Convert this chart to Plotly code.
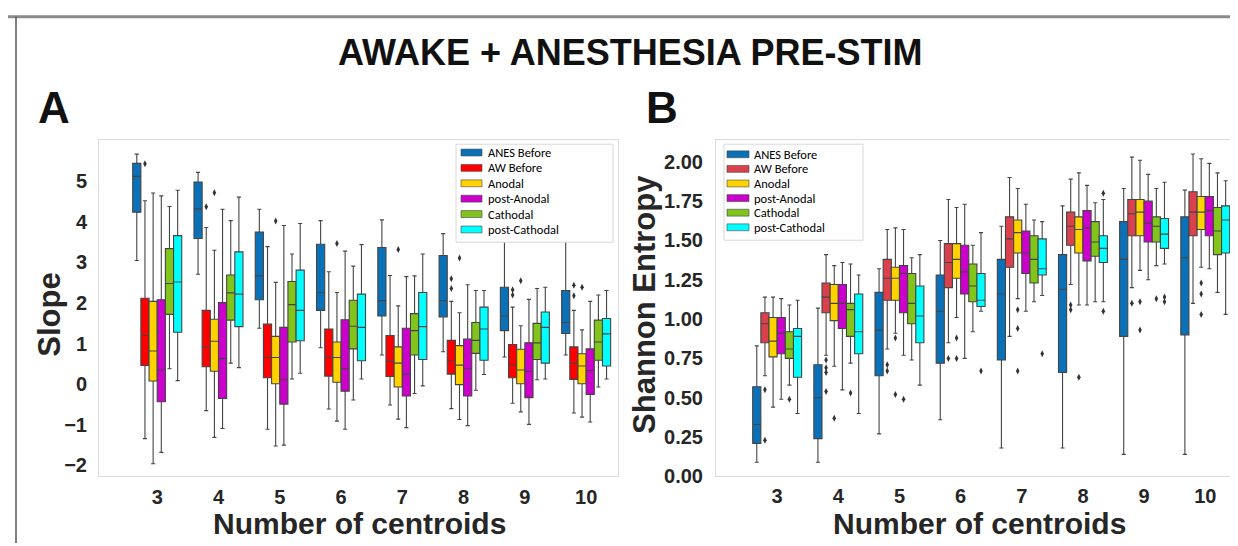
import plotly.graph_objects as go

W, H = 1238, 546

series = ["ANES Before", "AW Before", "Anodal", "post-Anodal", "Cathodal", "post-Cathodal"]
centroids = ["3", "4", "5", "6", "7", "8", "9", "10"]
colors_a = ["#0a71b8", "#ff0000", "#ffd200", "#cc00cc", "#80c41c", "#00ffff"]
colors_b = ["#0a71b8", "#d9414c", "#ffd200", "#cc00cc", "#80c41c", "#00ffff"]

# ---------- Panel A: Slope (rows = series, cols = centroids 3..10) ----------
slope_low = [
    [3.05, 2.71, 1.38, 0.90, 0.72, 0.80, 0.67, 0.72],
    [-1.34, -0.65, -1.11, -0.61, -0.51, -0.60, -0.47, -0.71],
    [-1.96, -1.31, -1.52, -0.91, -0.86, -0.87, -0.68, -0.81],
    [-1.68, -1.09, -1.50, -1.11, -1.07, -1.02, -0.99, -0.93],
    [0.38, 0.52, 0.13, -0.39, -0.23, -0.15, 0.11, -0.07],
    [0.09, 0.41, 0.27, 0.13, -0.04, 0.24, 0.13, 0.13],
]
slope_q1 = [
    [4.24, 3.59, 2.08, 1.82, 1.68, 1.66, 1.32, 1.25],
    [0.46, 0.43, 0.16, 0.20, 0.19, 0.25, 0.16, 0.12],
    [0.08, 0.32, 0.01, 0.05, -0.07, -0.01, 0.01, 0.01],
    [-0.43, -0.35, -0.49, -0.17, -0.29, -0.29, -0.33, -0.25],
    [1.72, 1.58, 1.04, 0.87, 0.72, 0.76, 0.61, 0.59],
    [1.28, 1.42, 1.07, 0.58, 0.61, 0.59, 0.52, 0.45],
]
slope_med = [
    [5.12, 4.32, 2.67, 2.26, 2.06, 2.06, 1.68, 1.52],
    [1.20, 0.91, 0.66, 0.66, 0.56, 0.58, 0.48, 0.51],
    [0.82, 1.06, 0.66, 0.66, 0.52, 0.47, 0.35, 0.45],
    [0.35, 0.63, 0.11, 0.38, 0.25, 0.38, 0.32, 0.34],
    [2.48, 2.25, 1.96, 1.43, 1.32, 1.08, 1.02, 1.04],
    [2.52, 2.22, 1.82, 1.40, 1.42, 1.36, 1.40, 1.24],
]
slope_q3 = [
    [5.44, 4.98, 3.75, 3.45, 3.37, 3.17, 2.39, 2.31],
    [2.12, 1.82, 1.48, 1.36, 1.20, 1.08, 0.98, 0.92],
    [2.04, 1.60, 1.18, 1.04, 0.92, 0.95, 0.86, 0.75],
    [2.08, 2.01, 1.40, 1.59, 1.38, 1.11, 1.02, 0.87],
    [3.34, 2.69, 2.53, 2.07, 1.74, 1.52, 1.50, 1.58],
    [3.66, 3.26, 2.81, 2.22, 2.26, 1.90, 1.78, 1.62],
]
slope_high = [
    [5.67, 5.22, 4.31, 4.03, 4.05, 3.71, 3.70, 3.80],
    [4.52, 3.86, 3.39, 2.77, 2.68, 2.04, 1.90, 1.82],
    [4.71, 3.30, 2.51, 2.26, 1.93, 1.76, 1.44, 1.34],
    [4.64, 4.31, 3.91, 3.28, 2.65, 2.45, 2.09, 2.04],
    [4.38, 4.03, 3.21, 2.91, 2.67, 2.31, 2.36, 2.20],
    [4.78, 4.61, 3.96, 3.44, 3.21, 2.31, 2.39, 2.31],
]
# outliers: (centroid label, series index, value)
slope_out = [
    ("3", 1, 5.43), ("4", 1, 4.37), ("4", 2, 4.72), ("5", 2, 4.02), ("6", 2, 3.47),
    ("7", 2, 3.32), ("8", 1, 2.60), ("8", 1, 2.36), ("8", 2, 3.11), ("9", 1, 2.33),
    ("9", 1, 2.20), ("9", 2, 2.55), ("10", 1, 2.44), ("10", 1, 2.18), ("10", 2, 2.39),
]

# ---------- Panel B: Shannon Entropy ----------
ent_low = [
    [0.09, 0.09, 0.27, 0.36, 0.18, 0.18, 0.14, 0.14],
    [0.64, 0.77, 0.81, 0.85, 0.89, 1.22, 1.20, 1.10],
    [0.44, 0.70, 0.91, 1.01, 1.13, 1.09, 1.31, 1.33],
    [0.49, 0.55, 0.77, 0.75, 1.05, 1.09, 1.25, 1.32],
    [0.58, 0.72, 0.74, 0.92, 1.11, 1.11, 1.34, 1.17],
    [0.40, 0.40, 0.58, 1.05, 1.15, 1.11, 1.35, 1.03],
]
ent_q1 = [
    [0.21, 0.24, 0.64, 0.72, 0.74, 0.66, 0.89, 0.90],
    [0.85, 1.04, 1.12, 1.20, 1.33, 1.47, 1.53, 1.53],
    [0.76, 0.99, 1.12, 1.26, 1.42, 1.42, 1.53, 1.57],
    [0.78, 0.94, 1.04, 1.16, 1.29, 1.37, 1.49, 1.53],
    [0.75, 0.89, 0.97, 1.11, 1.23, 1.40, 1.49, 1.41],
    [0.63, 0.78, 0.85, 1.08, 1.28, 1.36, 1.45, 1.42],
]
ent_med = [
    [0.33, 0.50, 0.93, 1.05, 1.16, 1.19, 1.38, 1.39],
    [0.97, 1.14, 1.26, 1.36, 1.51, 1.59, 1.67, 1.68],
    [0.86, 1.10, 1.26, 1.38, 1.55, 1.57, 1.68, 1.68],
    [0.91, 1.10, 1.29, 1.30, 1.42, 1.58, 1.61, 1.69],
    [0.81, 1.06, 1.10, 1.21, 1.38, 1.49, 1.59, 1.56],
    [0.89, 0.92, 1.02, 1.12, 1.32, 1.45, 1.54, 1.63],
]
ent_q3 = [
    [0.57, 0.71, 1.17, 1.28, 1.38, 1.41, 1.62, 1.65],
    [1.04, 1.23, 1.38, 1.48, 1.65, 1.68, 1.76, 1.81],
    [1.01, 1.22, 1.33, 1.48, 1.63, 1.65, 1.76, 1.78],
    [1.01, 1.22, 1.34, 1.47, 1.56, 1.69, 1.75, 1.78],
    [0.92, 1.10, 1.29, 1.35, 1.53, 1.62, 1.65, 1.71],
    [0.94, 1.16, 1.21, 1.29, 1.51, 1.53, 1.64, 1.72],
]
ent_high = [
    [0.83, 1.07, 1.32, 1.50, 1.59, 1.72, 1.83, 1.82],
    [1.14, 1.41, 1.57, 1.76, 1.90, 1.89, 2.03, 2.05],
    [1.14, 1.34, 1.58, 1.71, 1.83, 1.93, 2.01, 2.02],
    [1.13, 1.36, 1.57, 1.73, 1.73, 1.85, 1.92, 1.99],
    [1.09, 1.35, 1.39, 1.47, 1.63, 1.74, 1.83, 1.93],
    [1.12, 1.28, 1.41, 1.55, 1.62, 1.76, 1.87, 1.88],
]
ent_out = [
    ("3", 1, 0.55), ("3", 1, 0.23), ("3", 4, 0.49),
    ("4", 1, 0.74), ("4", 1, 0.69), ("4", 1, 0.66), ("4", 1, 0.54), ("4", 2, 0.37), ("4", 4, 0.53),
    ("5", 1, 0.71), ("5", 1, 0.67), ("5", 2, 0.88), ("5", 2, 0.52), ("5", 3, 0.49),
    ("6", 1, 0.75), ("6", 2, 0.88), ("6", 2, 0.75), ("6", 5, 0.67),
    ("7", 2, 1.06), ("7", 2, 0.94), ("7", 2, 0.67), ("7", 5, 0.78),
    ("8", 1, 1.09), ("8", 1, 1.06), ("8", 2, 0.63), ("8", 5, 1.80), ("8", 5, 1.05),
    ("9", 1, 1.10), ("9", 2, 1.11), ("9", 2, 0.93), ("9", 4, 1.13), ("9", 5, 1.14), ("9", 5, 1.11),
    ("10", 2, 1.23), ("10", 2, 1.16), ("10", 2, 1.03),
]

slope_ticks = [-2, -1, 0, 1, 2, 3, 4, 5]
ent_ticks = [0, 0.25, 0.5, 0.75, 1.0, 1.25, 1.5, 1.75, 2.0]

# ---------- helpers ----------
NS = len(series)
GROUP_W = 0.8
BW = GROUP_W / NS
EDGE = "#444444"


def xpos(gi, si):
    return gi + (si - (NS - 1) / 2) * BW


def px(x):
    return x / W


def py(y):
    return 1 - y / H


fig = go.Figure()


def add_panel(low, q1, med, q3, high, outs, colors, xa, ya):
    for si, name in enumerate(series):
        fig.add_trace(go.Box(
            x=[xpos(gi, si) for gi in range(len(centroids))],
            lowerfence=low[si], q1=q1[si], median=med[si], q3=q3[si], upperfence=high[si],
            width=BW, whiskerwidth=0.5, boxpoints=False,
            fillcolor=colors[si], line=dict(color=EDGE, width=1.1),
            name=name, showlegend=False, xaxis=xa, yaxis=ya, hoverinfo="skip",
        ))
    fig.add_trace(go.Scatter(
        x=[xpos(centroids.index(c), si) for c, si, v in outs],
        y=[v for c, si, v in outs],
        mode="markers", marker=dict(symbol="diamond-tall", size=5, color="#333333"),
        showlegend=False, xaxis=xa, yaxis=ya, hoverinfo="skip",
    ))


add_panel(slope_low, slope_q1, slope_med, slope_q3, slope_high, slope_out, colors_a, "x", "y")
add_panel(ent_low, ent_q1, ent_med, ent_q3, ent_high, ent_out, colors_b, "x2", "y2")

tickfont = dict(family="Liberation Sans, Arial", size=20, color="#262626", weight="bold")
axis_common = dict(showgrid=False, zeroline=False, showline=True, mirror=True,
                   linecolor="#dcdcdc", linewidth=1, ticks="outside",
                   tickcolor="rgba(0,0,0,0)", tickfont=tickfont)

fig.update_layout(
    width=W, height=H, margin=dict(l=0, r=0, t=0, b=0),
    paper_bgcolor="white", plot_bgcolor="white",
    xaxis=dict(domain=[px(91), px(610)], range=[-0.95, 7.52],
               tickvals=list(range(len(centroids))), ticktext=centroids, ticklen=3, **axis_common),
    yaxis=dict(domain=[py(478), py(135)], range=[-2.27, 6.01],
               tickvals=slope_ticks, ticktext=[str(t).replace("-", "\u2212") for t in slope_ticks],
               ticklen=7, **axis_common),
    xaxis2=dict(domain=[px(708), px(1231.5)], range=[-1.0, 7.56], anchor="y2",
                tickvals=list(range(len(centroids))), ticktext=centroids, ticklen=2, **axis_common),
    yaxis2=dict(domain=[py(478), py(135)], range=[0, 2.137], anchor="x2",
                tickvals=ent_ticks, ticktext=["%.2f" % t for t in ent_ticks],
                ticklen=8, **axis_common),
)

shapes = [
    dict(type="line", xref="paper", yref="paper", x0=0, x1=1, y0=py(9), y1=py(9),
         line=dict(color="#8a8a8a", width=3)),
    dict(type="line", xref="paper", yref="paper", x0=px(8), x1=px(8), y0=py(9), y1=0,
         line=dict(color="#555555", width=1.5)),
]
annotations = []

bold = dict(family="Liberation Sans, Arial", color="#111111", weight="bold")
annotations.append(dict(text="AWAKE + ANESTHESIA PRE-STIM", x=px(622), y=py(45), xref="paper", yref="paper",
                        showarrow=False, font=dict(size=36, **bold), xanchor="center", yanchor="middle"))
annotations.append(dict(text="A", x=px(46), y=py(102), xref="paper", yref="paper", showarrow=False,
                        font=dict(size=44, **bold), xanchor="center", yanchor="middle"))
annotations.append(dict(text="B", x=px(654), y=py(102), xref="paper", yref="paper", showarrow=False,
                        font=dict(size=44, **bold), xanchor="center", yanchor="middle"))
title_font = dict(family="Liberation Sans, Arial", color="#262626", weight="bold")
for cx in (351, 971):
    annotations.append(dict(text="Number of centroids", x=px(cx), y=py(526), xref="paper", yref="paper",
                            showarrow=False, font=dict(size=30, **title_font), xanchor="center", yanchor="middle"))
annotations.append(dict(text="Slope", x=px(42), y=py(313), xref="paper", yref="paper", showarrow=False,
                        textangle=-90, font=dict(size=31, **title_font), xanchor="center", yanchor="middle"))
annotations.append(dict(text="Shannon Entropy", x=px(637), y=py(303), xref="paper", yref="paper", showarrow=False,
                        textangle=-90, font=dict(size=31, **title_font), xanchor="center", yanchor="middle"))


def add_legend(x0, x1, y0, y1, sw0, sw1, tx, row0, step, colors):
    shapes.append(dict(type="rect", xref="paper", yref="paper", x0=px(x0), x1=px(x1), y0=py(y1), y1=py(y0),
                       fillcolor="white", line=dict(color="#d8d8d8", width=1), layer="above"))
    for i, name in enumerate(series):
        yc = row0 + i * step
        shapes.append(dict(type="rect", xref="paper", yref="paper", x0=px(sw0), x1=px(sw1),
                           y0=py(yc + 3.5), y1=py(yc - 3.5), fillcolor=colors[i],
                           line=dict(color=EDGE, width=0.6), layer="above"))
        annotations.append(dict(text=name, x=px(tx), y=py(yc), xref="paper", yref="paper", showarrow=False,
                                xanchor="left", yanchor="middle",
                                font=dict(family="Carlito, Lato", size=12.5, color="#000000")))


add_legend(448, 605, 139, 239, 453, 474, 478, 147.5, 15.7, colors_a)
add_legend(716, 855, 139, 237, 719, 741, 744, 149.3, 14.9, colors_b)

fig.update_layout(shapes=shapes, annotations=annotations)
fig.write_html("out.html")
